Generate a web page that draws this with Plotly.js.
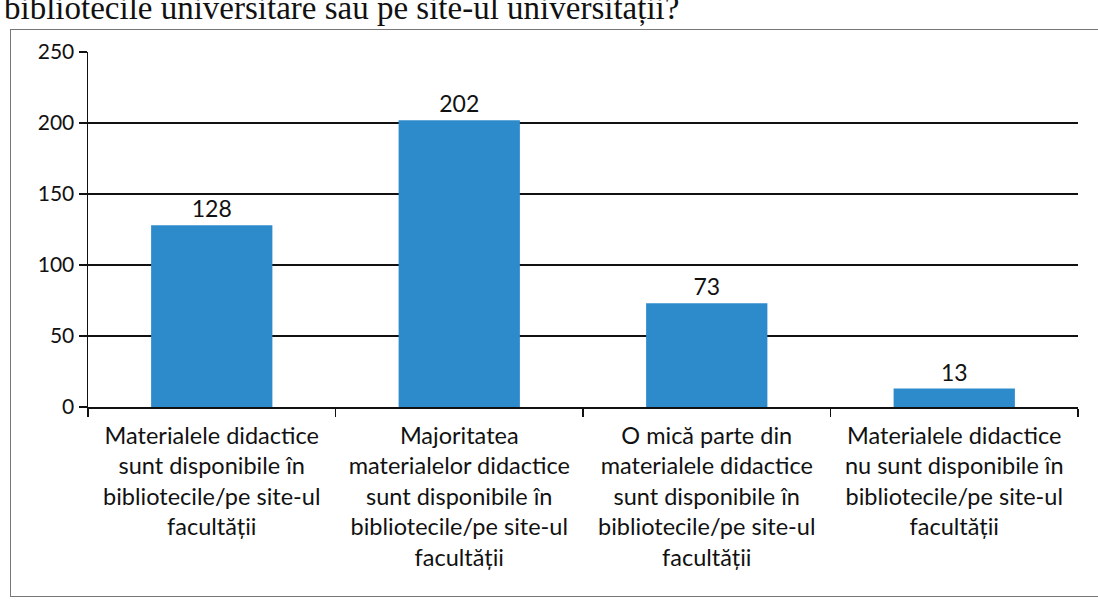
<!DOCTYPE html>
<html>
<head>
<meta charset="utf-8">
<script src="https://cdn.plot.ly/plotly-3.0.1.min.js"></script>
<style>
  html, body { margin: 0; padding: 0; background: #fff; overflow: hidden; }
  #wrap { position: relative; width: 1098px; height: 601px; }
  #caption { position: absolute; left: 4px; top: -11px; font-family: "Liberation Serif", serif; font-size: 33px; line-height: 38px; color: #111; white-space: nowrap; }
  #box { position: absolute; left: 10px; top: 29px; width: 1090px; height: 568px; border: 1.5px solid #777; border-right: none; box-sizing: border-box; }
  #chart { position: absolute; left: 0; top: 0; }
</style>
</head>
<body>
<div id="wrap">
  <div id="caption">bibliotecile universitare sau pe site-ul universității?</div>
  <div id="box"></div>
  <div id="chart"></div>
</div>
<script>
const categories = [
  "Materialele didactice<br>sunt disponibile în<br>bibliotecile/pe site-ul<br>facultății",
  "Majoritatea<br>materialelor didactice<br>sunt disponibile în<br>bibliotecile/pe site-ul<br>facultății",
  "O mică parte din<br>materialele didactice<br>sunt disponibile în<br>bibliotecile/pe site-ul<br>facultății",
  "Materialele didactice<br>nu sunt disponibile în<br>bibliotecile/pe site-ul<br>facultății"
];
const values = [128, 202, 73, 13];
const yTicks = [0, 50, 100, 150, 200, 250];

const font = "Lato, 'Open Sans', sans-serif";

const trace = {
  type: "bar",
  x: categories,
  y: values,
  text: values.map(String),
  textposition: "outside",
  textfont: { family: font, size: 23, color: "#111" },
  cliponaxis: false,
  marker: { color: "#2e8bcb" },
  width: 0.49,
  hoverinfo: "none"
};

const layout = {
  width: 1098,
  height: 601,
  margin: { l: 88, r: 20, t: 52, b: 194 },
  paper_bgcolor: "rgba(0,0,0,0)",
  plot_bgcolor: "rgba(0,0,0,0)",
  showlegend: false,
  font: { family: font, color: "#111" },
  bargap: 0.5,
  xaxis: {
    showline: true, linecolor: "#111", linewidth: 1.5,
    ticks: "outside", tickson: "boundaries", ticklen: 8, tickcolor: "#111", tickwidth: 1.5,
    tickfont: { family: font, size: 23.5, color: "#111" },
    tickangle: 0,
    ticklabelstandoff: 7,
    showgrid: false, zeroline: false
  },
  yaxis: {
    range: [0, 250], tickvals: yTicks, ticktext: yTicks.map(String),
    showline: true, linecolor: "#111", linewidth: 1.5,
    ticks: "outside", ticklen: 8, tickcolor: "#111", tickwidth: 1.5,
    tickfont: { family: font, size: 21, color: "#111" },
    showgrid: true, gridcolor: "#111", gridwidth: 1.5,
    zeroline: false, fixedrange: true
  }
};

Plotly.newPlot("chart", [trace], layout, { displayModeBar: false, staticPlot: true });
</script>
</body>
</html>
